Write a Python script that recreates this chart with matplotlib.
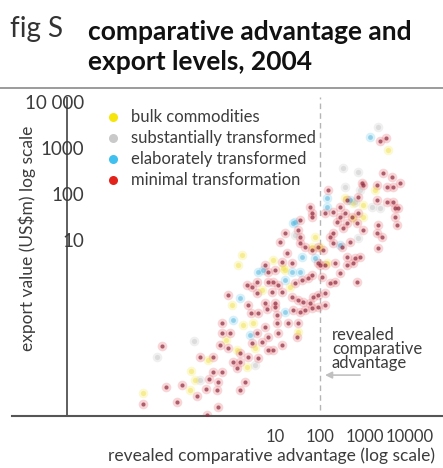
import matplotlib
matplotlib.use("Agg")
import matplotlib.pyplot as plt
import numpy as np

# Datos (log10 de RCA y log10 de exportaciones US$m)
red_lrca = [-1.51, -1.93, -1.42, -1.18, -1.07, -0.67, -0.53, -0.73, -0.47, -0.38, -0.38, -0.51, -0.29,
            0.82, 1.00, 0.40, 0.47, 0.62, 1.04, 1.40, 1.56, 1.67, 1.82, 1.96, 2.11, -0.18, 0.00, -0.18,
            0.60, 0.78, 0.84, 1.07, 1.04, 1.29, 1.51, 1.49, 0.49, 0.71, 0.84, 0.96, 1.16, -0.04, 0.22,
            0.07, 0.22, 0.40, 0.62, 0.16, -0.18, 0.33, 0.22, -0.27, -0.27, -0.22,
            1.82, 1.51, 1.22, 1.11, 1.56, 1.67, 1.82, 1.96, 2.07, 1.27, 1.38, 1.16, 0.78, 1.00, 0.84,
            1.60, 1.73, 1.82, 1.44, 0.96, 1.07, 0.84, 0.60, 0.49, 0.38, 0.60, 0.93, 1.16, 1.38, 1.51,
            1.62, 1.78, 1.84, 1.96, 2.11, -0.04, 0.78, 1.00, 2.04, 2.11, 1.96,
            3.33, 3.47, 2.96, 3.27, 3.40, 3.60, 3.49, 3.62, 3.78, 2.18, 2.84, 3.49, 3.62, 3.27, 3.67,
            3.73, 2.60, 2.44, 1.78, 2.11, 2.44, 2.71, 2.60, 2.82, 3.67, 3.71, 3.29, 3.27, 3.38, 3.29,
            2.67, 2.29, 2.22, 1.56, 1.82, 1.56, 2.29, 2.49, 2.60, 2.78, 2.73, 2.60, 2.44, 2.33, 2.00,
            2.82, 2.33, 2.22, 2.93, 2.29, 2.56, 2.84, 2.38, 2.96, 2.51, 2.89]
red_lexp = [-1.30, -2.57, -2.20, -2.52, -2.15, -1.54, -2.24, -2.39, -2.02, -1.87, -1.54, -2.80, -2.26,
            -0.50, -0.46, -0.41, -0.59, -0.59, -0.63, -0.52, -0.57, -0.52, -0.48, -0.46, -0.41, -0.80, -1.02, -1.02,
            -1.02, -0.89, -1.11, -1.02, -0.80, -0.80, -0.80, -1.11, -1.24, -1.22, -1.39, -1.39, -1.28, -1.35, -1.46,
            -1.65, -1.65, -1.54, -1.57, -1.78, -1.87, -2.09, -2.26, -2.09, -2.63, -1.28,
            1.59, 1.22, 1.15, 0.96, 0.93, 0.85, 0.78, 0.85, 0.78, 0.72, 0.50, 0.52, 0.46, 0.35, 0.30,
            0.13, 0.17, 0.24, 0.07, 0.09, 0.02, 0.09, 0.09, -0.02, 0.02, -0.15, -0.13, -0.13, -0.24, -0.30,
            -0.35, -0.37, -0.24, -0.20, -0.15, -0.20, -0.37, -0.37, 0.20, 0.46, 0.50,
            3.15, 3.22, 2.20, 2.20, 2.46, 2.37, 2.15, 2.15, 2.24, 2.09, 1.93, 1.83, 1.83, 1.87, 1.70,
            1.70, 1.87, 1.72, 1.72, 1.59, 1.50, 1.50, 1.37, 1.37, 1.50, 1.33, 1.33, 1.15, 1.07, 0.83,
            0.96, 1.15, 1.07, 1.43, 1.50, 1.07, 0.93, 0.85, 0.63, 0.61, 0.50, 0.46, 0.28, 0.50, 0.46,
            0.09, 0.09, 0.07, 2.24, 1.61, 1.59, 1.59, 1.39, 1.22, 1.26, 0.63]

yellow_lrca = [-1.93, -0.49, -0.87, -0.89, 0.29, 0.16, 0.56, 0.38, 1.51, 1.89, 0.96, 1.18, 0.71, 0.27,
               0.18, 3.51, 3.22, 2.96, 2.73, 2.56, 2.96, 2.73, 1.82, 2.00, 2.16, 0.51, 1.22, -0.78,
               0.04, -0.09, 1.33]
yellow_lexp = [-2.33, -1.61, -1.85, -2.26, -0.85, -1.39, -1.35, -1.76, -1.00, 1.07, 0.57, 0.39, -0.09, 0.67,
               0.46, 2.96, 2.09, 1.76, 1.80, 1.91, 1.50, 1.48, 0.85, 0.85, 0.50, -0.80, 0.35, -2.04,
               -0.41, -1.17, -0.02]

grey_lrca = [-0.80, -1.62, -0.67, 0.56, 1.44, 3.29, 2.51, 2.84, 2.56, 2.78, 3.16, 3.33, 2.84, 2.89]
grey_lexp = [-1.20, -1.54, -2.04, -1.72, 1.11, 3.46, 2.57, 2.48, 2.15, 1.83, 1.72, 1.70, 1.04, 2.09]

blue_lrca = [3.11, 1.44, 1.60, 0.62, 0.73, 1.38, 1.56, 1.22, 1.89, 2.16, 2.16, 1.40, 2.67, 2.44, 1.22,
             0.22, 0.07, 0.44]
blue_lexp = [3.24, 1.39, 0.63, 0.30, 0.35, 0.30, 0.30, 0.13, 0.61, 1.91, 1.72, 1.37, 1.87, 0.89, -0.57,
             -0.26, -0.74, -1.07]

legend_labels = ["bulk commodities", "substantially transformed",
                 "elaborately transformed", "minimal transformation"]
legend_colors = ["#f5e50a", "#c9c9c9", "#3fc0ee", "#e3231b"]

xticks = [10, 100, 1000, 10000]
xticklabels = ["10", "100", "1000", "10000"]
yticks = [10, 100, 1000, 10000]
yticklabels = ["10", "100", "1000", "10 000"]

plt.rcParams['font.family'] = ['Lato', 'DejaVu Sans']
txt = "#3c3c3c"

fig = plt.figure(figsize=(4.43, 4.68), dpi=100)
W, H = 443, 468
ax = fig.add_axes([12 / W, 1 - 416 / H, (443 - 12) / W, (416 - 97) / H])
ax.set_xscale("log")
ax.set_yscale("log")
ax.set_xlim(10 ** -4.84, 10 ** 4.73)
ax.set_ylim(10 ** -2.83, 10 ** 4.11)

# Puntos (halo + nucleo)
def puntos(lx, ly, halo, core, a_halo, a_core, s_core):
    x = 10 ** np.array(lx)
    y = 10 ** np.array(ly)
    ax.scatter(x, y, s=48, color=halo, alpha=a_halo, lw=0, zorder=2)
    ax.scatter(x, y, s=s_core, color=core, alpha=a_core, lw=0, zorder=3)

puntos(yellow_lrca, yellow_lexp, "#f7ec7a", "#efe04a", 0.35, 0.45, 14)
puntos(grey_lrca, grey_lexp, "#dadada", "#c4c4c4", 0.4, 0.45, 14)
puntos(blue_lrca, blue_lexp, "#8fd5f2", "#4fb3da", 0.35, 0.5, 12)
puntos(red_lrca, red_lexp, "#e8767c", "#8e2c40", 0.3, 0.7, 9)

# Ejes
for s in ["top", "right", "left"]:
    ax.spines[s].set_visible(False)
ax.spines["bottom"].set_color("#555555")
ax.spines["bottom"].set_linewidth(1.5)
ax.axvline(2.4e-4, color="#333333", lw=1.1, zorder=1)
ax.axvline(100, ymin=0.02, ymax=1.0, color="#b5b5b5", lw=1, ls=(0, (4, 3)), zorder=1)

ax.set_xticks(xticks)
ax.set_xticklabels(xticklabels)
ax.set_yticks(yticks)
ax.set_yticklabels(yticklabels)
ax.minorticks_off()
ax.tick_params(length=0, labelsize=12, colors=txt, labelcolor=txt)
ax.tick_params(axis="x", pad=9)
ax.tick_params(axis="y", pad=-52)
for lab in ax.get_yticklabels():
    lab.set_horizontalalignment("right")
    lab.set_fontsize(13.5)

# Leyenda
for i, (lab, col) in enumerate(zip(legend_labels, legend_colors)):
    yy = 1 - (117 + 21 * i) / H
    fig.add_artist(plt.Line2D([113 / W], [yy], marker="o", ms=6.5, color=col,
                              mec="none", transform=fig.transFigure))
    fig.text(131 / W, yy, lab, fontsize=12, color=txt, va="center", ha="left")

# Anotacion
fig.text(332 / W, 1 - 349 / H, "revealed\ncomparative\nadvantage", fontsize=12,
         color=txt, va="center", ha="left", linespacing=0.85)
ax.annotate("", xy=(10 ** 2.05, 10 ** -1.94), xytext=(10 ** 2.95, 10 ** -1.94),
            arrowprops=dict(arrowstyle="-|>", color="#c0c0c0", lw=1.2))

# Titulos
fig.text(271 / W, 1 - 456 / H, "revealed comparative advantage (log scale)", fontsize=12.5,
         color=txt, ha="center", va="center")
fig.text(27 / W, 1 - 238 / H, "export value (US$m) log scale", fontsize=12.5,
         color=txt, ha="center", va="center", rotation=90)

fig.text(10 / W, 1 - 29 / H, "fig S", fontsize=20, color="#333333",
         ha="left", va="center")
fig.text(88 / W, 1 - 32 / H, "comparative advantage and", fontsize=19, fontweight="bold",
         color="#111111", ha="left", va="center")
fig.text(88 / W, 1 - 62 / H, "export levels, 2004", fontsize=19, fontweight="bold",
         color="#111111", ha="left", va="center")
fig.add_artist(plt.Line2D([0, 1], [1 - 88 / H, 1 - 88 / H], color="#8a8a8a", lw=1.2,
                          transform=fig.transFigure))

fig.savefig("out.png", dpi=100)
